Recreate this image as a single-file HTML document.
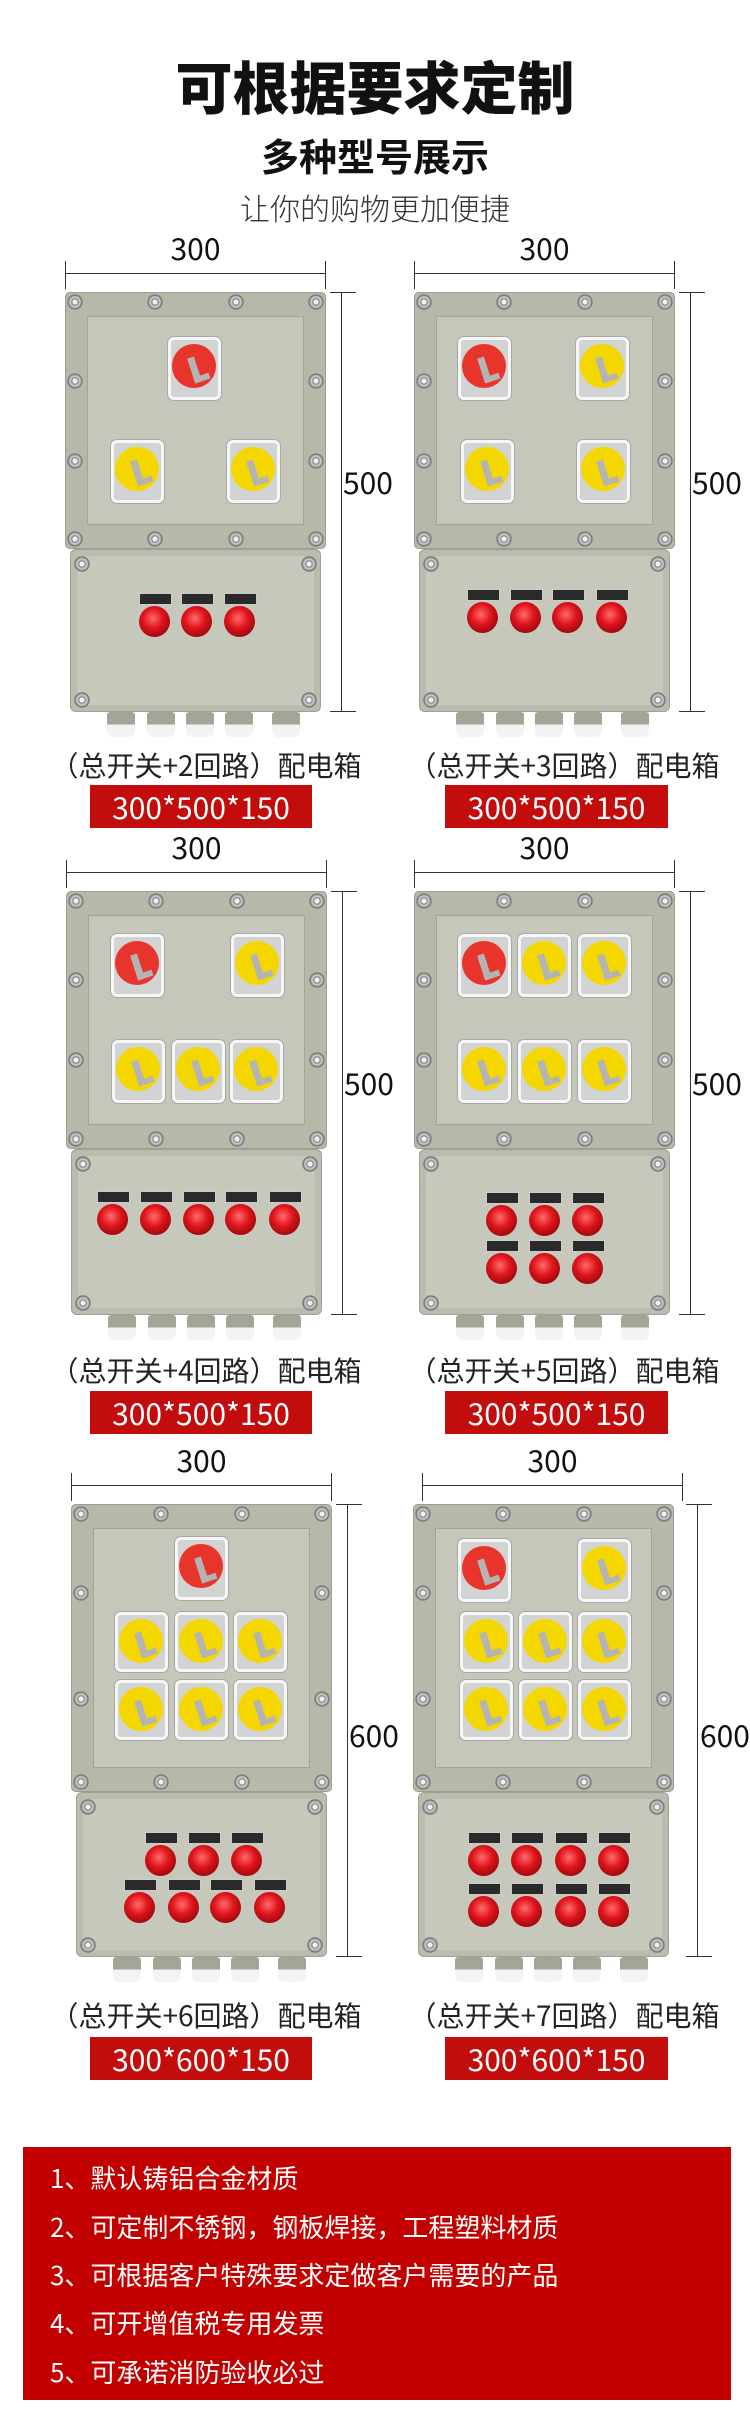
<!DOCTYPE html>
<html><head><meta charset="utf-8"><style>
*{margin:0;padding:0;box-sizing:border-box}
body{width:750px;height:2417px;background:#fff;position:relative;overflow:hidden;font-family:"Liberation Sans","Noto Sans CJK SC",sans-serif;color:#222}
.t{position:absolute;left:0;width:750px;text-align:center;font-family:"Noto Sans CJK SC",sans-serif;white-space:nowrap}
.bx{position:absolute;width:261px}
.tp{position:absolute;left:0;top:0;width:261px;background:#b6b9aa;border-radius:5px;box-shadow:inset 0 0 0 1px #9c9f90}
.tp>.f{position:absolute;left:22px;top:24px;right:22px;bottom:24px;background:#c5c7ba;border:1px solid #a3a697}
.bp{position:absolute;left:5px;width:251px;background:#b9bcae;border-radius:6px;box-shadow:inset 0 0 0 1px #9fa293}
.bp>.f{position:absolute;left:7px;top:7px;right:7px;bottom:7px;background:#c6c8bb;border-radius:8px}
.bo{position:absolute;width:16px;height:16px;margin:-8px 0 0 -8px;border-radius:50%;background:radial-gradient(circle,#f2f2f2 0 2px,#8a8a8a 3px,#d0d0d0 5px,#6f6f6f 7px,#a9ac9d 8px)}
.sw{position:absolute;width:53px;height:63px;background:#f6f6f6;border-radius:6px;box-shadow:0 0 0 1px #a8a8a8}
.sw::before{content:"";position:absolute;left:3px;top:3px;right:3px;bottom:3px;background:#d2d3d3;border-radius:3px}
.sw::after{content:"";position:absolute;left:4px;top:7px;width:44px;height:44px;border-radius:50%;background:#e8352c}
.sw.y::after{background:#f5d700}
.sw i{position:absolute;left:23px;top:20px;width:7px;height:26px;background:#b4b4b4;z-index:2;transform:rotate(-18deg)}
.sw i::after{content:"";position:absolute;left:0;top:20px;width:16px;height:6px;background:#b4b4b4}
.l{position:absolute;width:31px;height:31px;margin:-15px 0 0 -15px;border-radius:50%;background:radial-gradient(circle at 45% 40%,#ff6b6b 0,#e0141c 40%,#9d0a10 75%,#c8c8c8 82%,#8f8f8f 100%)}
.l::before{content:"";position:absolute;left:0;top:-13px;width:31px;height:10px;background:#2a2a2a;border:1px solid #ccc}
.g{position:absolute;width:28px;height:25px;background:linear-gradient(#a3a697 0 50%,#f3f3f3 50%);border-radius:3px 3px 6px 6px}
.hd{position:absolute;left:0;top:-19px;width:261px;border-top:1.5px solid #333}
.hd::before,.hd::after{content:"";position:absolute;top:-13px;height:28px;border-left:1px solid #333;left:0}
.hd::after{left:auto;right:0}
.vd{position:absolute;left:276px;top:0;border-left:1.5px solid #333}
.vd::before,.vd::after{content:"";position:absolute;left:-12px;width:26px;top:0;border-top:1px solid #333}
.vd::after{top:auto;bottom:0}
.n{position:absolute;font-size:30px;line-height:30px;font-family:"Noto Sans CJK SC",sans-serif;color:#111;white-space:nowrap}
.n.h{left:0;width:261px;text-align:center;top:-60px}
.n.v{left:278px}
.lb{position:absolute;font-size:28px;line-height:34px;font-family:"Noto Sans CJK SC",sans-serif;color:#222;white-space:nowrap;text-align:center;width:330px}
.rb{position:absolute;height:43px;background:#c30d0d;color:#fff;font-size:30px;line-height:43px;text-align:center;font-family:"Noto Sans CJK SC",sans-serif}
.list{position:absolute;left:23px;top:2147px;width:708px;height:253px;background:#c20000}
.list div{position:absolute;left:27px;color:#fff;font-size:26px;line-height:30px;font-family:"Noto Sans CJK SC",sans-serif;white-space:nowrap}
</style></head><body>

<div class="t" style="top:52px;font-size:57px;line-height:66px;font-weight:900;color:#111">可根据要求定制</div>
<div class="t" style="top:133px;font-size:38px;line-height:44px;font-weight:700;color:#111">多种型号展示</div>
<div class="t" style="top:188px;font-size:30px;line-height:38px;font-weight:300;color:#333">让你的购物更加便捷</div>

<!-- Row 1 left -->
<div class="bx" style="left:65px;top:292px">
<div class="hd"></div><div class="n h">300</div>
<div class="vd" style="height:420px"></div><div class="n v" style="top:174px">500</div>
<div class="tp" style="height:257px"><div class="f"></div></div>
<div class="bp" style="top:257px;height:163px"><div class="f"></div></div>
<i class="bo" style="left:10px;top:10px"></i><i class="bo" style="left:90px;top:10px"></i><i class="bo" style="left:171px;top:10px"></i><i class="bo" style="left:251px;top:10px"></i>
<i class="bo" style="left:10px;top:247px"></i><i class="bo" style="left:90px;top:247px"></i><i class="bo" style="left:171px;top:247px"></i><i class="bo" style="left:251px;top:247px"></i>
<i class="bo" style="left:10px;top:89px"></i><i class="bo" style="left:10px;top:169px"></i><i class="bo" style="left:251px;top:89px"></i><i class="bo" style="left:251px;top:169px"></i>
<i class="bo" style="left:17px;top:272px"></i><i class="bo" style="left:244px;top:272px"></i><i class="bo" style="left:17px;top:408px"></i><i class="bo" style="left:244px;top:408px"></i>
<div class="sw" style="left:103px;top:45px"><i></i></div>
<div class="sw y" style="left:46px;top:148px"><i></i></div>
<div class="sw y" style="left:162px;top:148px"><i></i></div>
<b class="l" style="left:89px;top:329px"></b><b class="l" style="left:131px;top:329px"></b><b class="l" style="left:174px;top:329px"></b>
<s class="g" style="left:42px;top:420px"></s><s class="g" style="left:82px;top:420px"></s><s class="g" style="left:121px;top:420px"></s><s class="g" style="left:160px;top:420px"></s><s class="g" style="left:207px;top:420px"></s>
</div>

<!-- Row 1 right -->
<div class="bx" style="left:414px;top:292px">
<div class="hd"></div><div class="n h">300</div>
<div class="vd" style="height:420px"></div><div class="n v" style="top:174px">500</div>
<div class="tp" style="height:257px"><div class="f"></div></div>
<div class="bp" style="top:257px;height:163px"><div class="f"></div></div>
<i class="bo" style="left:10px;top:10px"></i><i class="bo" style="left:90px;top:10px"></i><i class="bo" style="left:171px;top:10px"></i><i class="bo" style="left:251px;top:10px"></i>
<i class="bo" style="left:10px;top:247px"></i><i class="bo" style="left:90px;top:247px"></i><i class="bo" style="left:171px;top:247px"></i><i class="bo" style="left:251px;top:247px"></i>
<i class="bo" style="left:10px;top:89px"></i><i class="bo" style="left:10px;top:169px"></i><i class="bo" style="left:251px;top:89px"></i><i class="bo" style="left:251px;top:169px"></i>
<i class="bo" style="left:17px;top:272px"></i><i class="bo" style="left:244px;top:272px"></i><i class="bo" style="left:17px;top:408px"></i><i class="bo" style="left:244px;top:408px"></i>
<div class="sw" style="left:44px;top:45px"><i></i></div>
<div class="sw y" style="left:162px;top:45px"><i></i></div>
<div class="sw y" style="left:47px;top:148px"><i></i></div>
<div class="sw y" style="left:163px;top:148px"><i></i></div>
<b class="l" style="left:68px;top:325px"></b><b class="l" style="left:111px;top:325px"></b><b class="l" style="left:153px;top:325px"></b><b class="l" style="left:197px;top:325px"></b>
<s class="g" style="left:42px;top:420px"></s><s class="g" style="left:82px;top:420px"></s><s class="g" style="left:121px;top:420px"></s><s class="g" style="left:160px;top:420px"></s><s class="g" style="left:207px;top:420px"></s>
</div>

<div class="lb" style="left:41px;top:748px">（总开关+2回路）配电箱</div>
<div class="lb" style="left:399px;top:748px">（总开关+3回路）配电箱</div>
<div class="rb" style="left:90px;top:785px;width:222px">300*500*150</div>
<div class="rb" style="left:445px;top:785px;width:223px">300*500*150</div>

<!-- Row 2 left -->
<div class="bx" style="left:66px;top:891px">
<div class="hd"></div><div class="n h">300</div>
<div class="vd" style="height:424px"></div><div class="n v" style="top:176px">500</div>
<div class="tp" style="height:258px"><div class="f"></div></div>
<div class="bp" style="top:258px;height:166px"><div class="f"></div></div>
<i class="bo" style="left:10px;top:10px"></i><i class="bo" style="left:90px;top:10px"></i><i class="bo" style="left:171px;top:10px"></i><i class="bo" style="left:251px;top:10px"></i>
<i class="bo" style="left:10px;top:248px"></i><i class="bo" style="left:90px;top:248px"></i><i class="bo" style="left:171px;top:248px"></i><i class="bo" style="left:251px;top:248px"></i>
<i class="bo" style="left:10px;top:89px"></i><i class="bo" style="left:10px;top:169px"></i><i class="bo" style="left:251px;top:89px"></i><i class="bo" style="left:251px;top:169px"></i>
<i class="bo" style="left:17px;top:273px"></i><i class="bo" style="left:244px;top:273px"></i><i class="bo" style="left:17px;top:412px"></i><i class="bo" style="left:244px;top:412px"></i>
<div class="sw" style="left:45px;top:43px"><i></i></div>
<div class="sw y" style="left:165px;top:43px"><i></i></div>
<div class="sw y" style="left:46px;top:149px"><i></i></div>
<div class="sw y" style="left:106px;top:149px"><i></i></div>
<div class="sw y" style="left:164px;top:149px"><i></i></div>
<b class="l" style="left:46px;top:328px"></b><b class="l" style="left:89px;top:328px"></b><b class="l" style="left:132px;top:328px"></b><b class="l" style="left:174px;top:328px"></b><b class="l" style="left:218px;top:328px"></b>
<s class="g" style="left:42px;top:424px"></s><s class="g" style="left:82px;top:424px"></s><s class="g" style="left:121px;top:424px"></s><s class="g" style="left:160px;top:424px"></s><s class="g" style="left:207px;top:424px"></s>
</div>

<!-- Row 2 right -->
<div class="bx" style="left:414px;top:891px">
<div class="hd"></div><div class="n h">300</div>
<div class="vd" style="height:424px"></div><div class="n v" style="top:176px">500</div>
<div class="tp" style="height:258px"><div class="f"></div></div>
<div class="bp" style="top:258px;height:166px"><div class="f"></div></div>
<i class="bo" style="left:10px;top:10px"></i><i class="bo" style="left:90px;top:10px"></i><i class="bo" style="left:171px;top:10px"></i><i class="bo" style="left:251px;top:10px"></i>
<i class="bo" style="left:10px;top:248px"></i><i class="bo" style="left:90px;top:248px"></i><i class="bo" style="left:171px;top:248px"></i><i class="bo" style="left:251px;top:248px"></i>
<i class="bo" style="left:10px;top:89px"></i><i class="bo" style="left:10px;top:169px"></i><i class="bo" style="left:251px;top:89px"></i><i class="bo" style="left:251px;top:169px"></i>
<i class="bo" style="left:17px;top:273px"></i><i class="bo" style="left:244px;top:273px"></i><i class="bo" style="left:17px;top:412px"></i><i class="bo" style="left:244px;top:412px"></i>
<div class="sw" style="left:44px;top:43px"><i></i></div>
<div class="sw y" style="left:104px;top:43px"><i></i></div>
<div class="sw y" style="left:164px;top:43px"><i></i></div>
<div class="sw y" style="left:44px;top:149px"><i></i></div>
<div class="sw y" style="left:104px;top:149px"><i></i></div>
<div class="sw y" style="left:164px;top:149px"><i></i></div>
<b class="l" style="left:87px;top:329px"></b><b class="l" style="left:130px;top:329px"></b><b class="l" style="left:173px;top:329px"></b>
<b class="l" style="left:87px;top:377px"></b><b class="l" style="left:130px;top:377px"></b><b class="l" style="left:173px;top:377px"></b>
<s class="g" style="left:42px;top:424px"></s><s class="g" style="left:82px;top:424px"></s><s class="g" style="left:121px;top:424px"></s><s class="g" style="left:160px;top:424px"></s><s class="g" style="left:207px;top:424px"></s>
</div>

<div class="lb" style="left:41px;top:1353px">（总开关+4回路）配电箱</div>
<div class="lb" style="left:399px;top:1353px">（总开关+5回路）配电箱</div>
<div class="rb" style="left:90px;top:1391px;width:222px">300*500*150</div>
<div class="rb" style="left:445px;top:1391px;width:223px">300*500*150</div>

<!-- Row 3 left -->
<div class="bx" style="left:71px;top:1504px">
<div class="hd"></div><div class="n h">300</div>
<div class="vd" style="height:453px"></div><div class="n v" style="top:215px">600</div>
<div class="tp" style="height:288px"><div class="f"></div></div>
<div class="bp" style="top:288px;height:165px"><div class="f"></div></div>
<i class="bo" style="left:10px;top:10px"></i><i class="bo" style="left:90px;top:10px"></i><i class="bo" style="left:171px;top:10px"></i><i class="bo" style="left:251px;top:10px"></i>
<i class="bo" style="left:10px;top:278px"></i><i class="bo" style="left:90px;top:278px"></i><i class="bo" style="left:171px;top:278px"></i><i class="bo" style="left:251px;top:278px"></i>
<i class="bo" style="left:10px;top:89px"></i><i class="bo" style="left:10px;top:195px"></i><i class="bo" style="left:251px;top:89px"></i><i class="bo" style="left:251px;top:195px"></i>
<i class="bo" style="left:17px;top:303px"></i><i class="bo" style="left:244px;top:303px"></i><i class="bo" style="left:17px;top:441px"></i><i class="bo" style="left:244px;top:441px"></i>
<div class="sw" style="left:104px;top:33px"><i></i></div>
<div class="sw y" style="left:44px;top:108px;height:60px"><i></i></div>
<div class="sw y" style="left:104px;top:108px;height:60px"><i></i></div>
<div class="sw y" style="left:163px;top:108px;height:60px"><i></i></div>
<div class="sw y" style="left:44px;top:176px;height:60px"><i></i></div>
<div class="sw y" style="left:104px;top:176px;height:60px"><i></i></div>
<div class="sw y" style="left:163px;top:176px;height:60px"><i></i></div>
<b class="l" style="left:89px;top:356px"></b><b class="l" style="left:132px;top:356px"></b><b class="l" style="left:175px;top:356px"></b>
<b class="l" style="left:68px;top:403px"></b><b class="l" style="left:112px;top:403px"></b><b class="l" style="left:154px;top:403px"></b><b class="l" style="left:198px;top:403px"></b>
<s class="g" style="left:42px;top:453px"></s><s class="g" style="left:82px;top:453px"></s><s class="g" style="left:121px;top:453px"></s><s class="g" style="left:160px;top:453px"></s><s class="g" style="left:207px;top:453px"></s>
</div>

<!-- Row 3 right -->
<div class="bx" style="left:413px;top:1504px">
<div class="hd" style="left:9px"></div><div class="n h" style="left:9px">300</div>
<div class="vd" style="height:453px;left:284px"></div><div class="n v" style="top:215px;left:287px">600</div>
<div class="tp" style="height:288px"><div class="f"></div></div>
<div class="bp" style="top:288px;height:165px"><div class="f"></div></div>
<i class="bo" style="left:10px;top:10px"></i><i class="bo" style="left:90px;top:10px"></i><i class="bo" style="left:171px;top:10px"></i><i class="bo" style="left:251px;top:10px"></i>
<i class="bo" style="left:10px;top:278px"></i><i class="bo" style="left:90px;top:278px"></i><i class="bo" style="left:171px;top:278px"></i><i class="bo" style="left:251px;top:278px"></i>
<i class="bo" style="left:10px;top:89px"></i><i class="bo" style="left:10px;top:195px"></i><i class="bo" style="left:251px;top:89px"></i><i class="bo" style="left:251px;top:195px"></i>
<i class="bo" style="left:17px;top:303px"></i><i class="bo" style="left:244px;top:303px"></i><i class="bo" style="left:17px;top:441px"></i><i class="bo" style="left:244px;top:441px"></i>
<div class="sw" style="left:45px;top:35px"><i></i></div>
<div class="sw y" style="left:165px;top:35px"><i></i></div>
<div class="sw y" style="left:47px;top:108px;height:60px"><i></i></div>
<div class="sw y" style="left:106px;top:108px;height:60px"><i></i></div>
<div class="sw y" style="left:165px;top:108px;height:60px"><i></i></div>
<div class="sw y" style="left:47px;top:176px;height:60px"><i></i></div>
<div class="sw y" style="left:106px;top:176px;height:60px"><i></i></div>
<div class="sw y" style="left:165px;top:176px;height:60px"><i></i></div>
<b class="l" style="left:70px;top:356px"></b><b class="l" style="left:113px;top:356px"></b><b class="l" style="left:157px;top:356px"></b><b class="l" style="left:200px;top:356px"></b>
<b class="l" style="left:70px;top:407px"></b><b class="l" style="left:113px;top:407px"></b><b class="l" style="left:157px;top:407px"></b><b class="l" style="left:200px;top:407px"></b>
<s class="g" style="left:42px;top:453px"></s><s class="g" style="left:82px;top:453px"></s><s class="g" style="left:121px;top:453px"></s><s class="g" style="left:160px;top:453px"></s><s class="g" style="left:207px;top:453px"></s>
</div>

<div class="lb" style="left:41px;top:1998px">（总开关+6回路）配电箱</div>
<div class="lb" style="left:399px;top:1998px">（总开关+7回路）配电箱</div>
<div class="rb" style="left:90px;top:2037px;width:222px">300*600*150</div>
<div class="rb" style="left:445px;top:2037px;width:223px">300*600*150</div>

<div class="list">
<div style="top:16px">1、默认铸铝合金材质</div>
<div style="top:65px">2、可定制不锈钢，钢板焊接，工程塑料材质</div>
<div style="top:113px">3、可根据客户特殊要求定做客户需要的产品</div>
<div style="top:161px">4、可开增值税专用发票</div>
<div style="top:210px">5、可承诺消防验收必过</div>
</div>
</body></html>
